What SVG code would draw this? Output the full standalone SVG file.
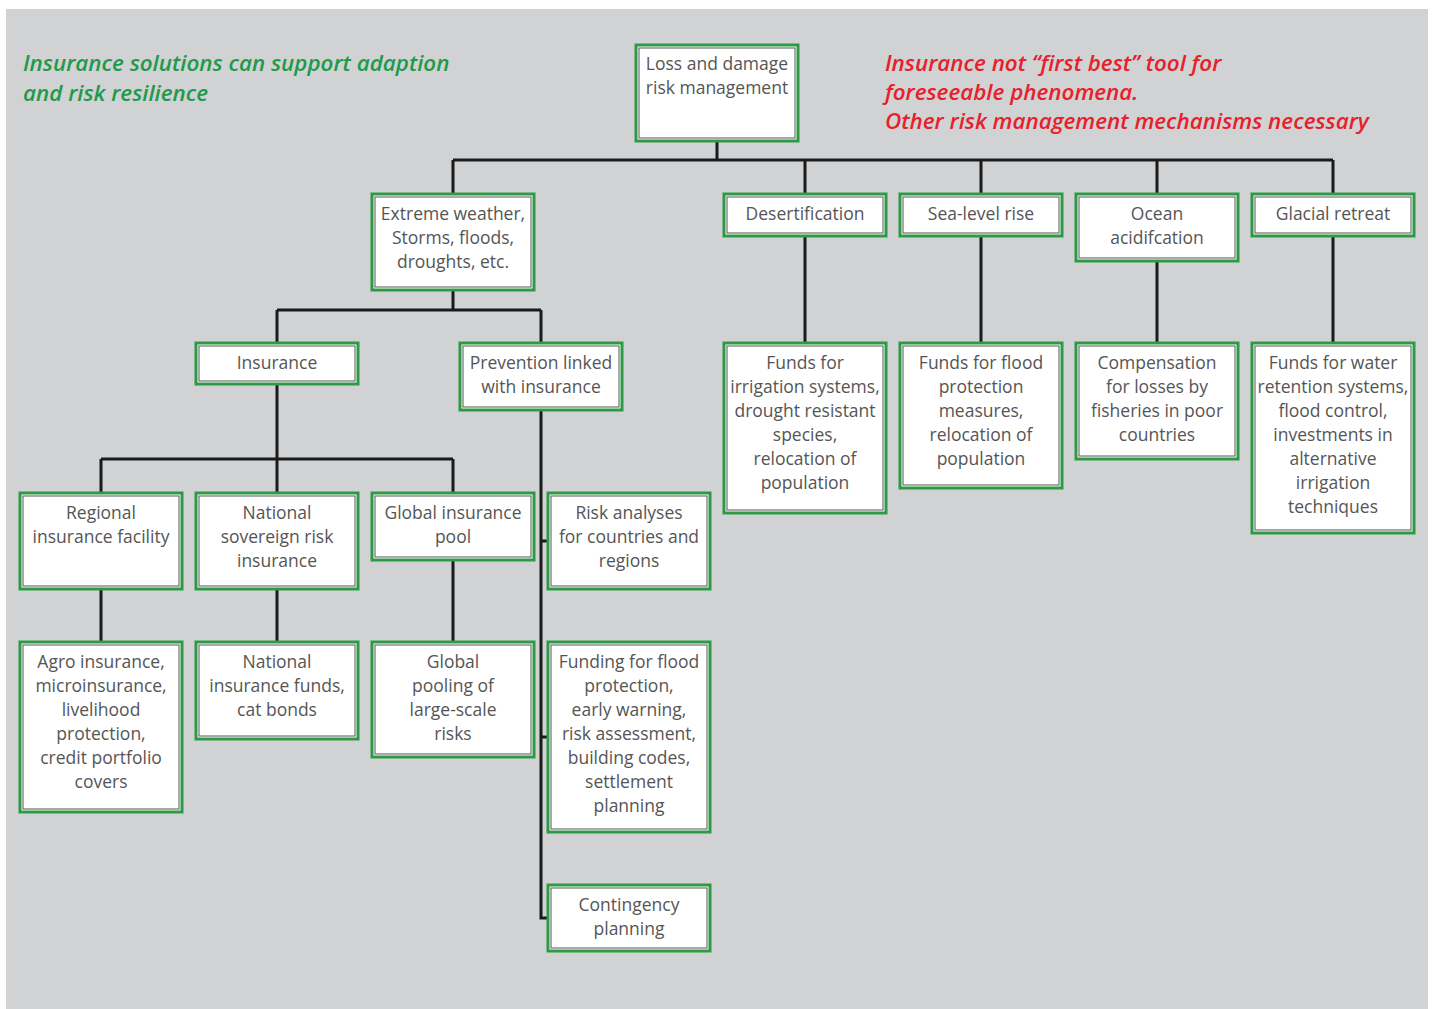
<svg xmlns="http://www.w3.org/2000/svg" width="1435" height="1009" viewBox="0 0 1435 1009">
<style>
.n rect.o{fill:#fff;stroke:#2f9a45;stroke-width:3}
.n rect.i{fill:none;stroke:#555;stroke-width:1}
.n text{font-family:"Open Sans","DejaVu Sans",sans-serif;font-size:17.5px;fill:#555;text-anchor:middle}
.c path{fill:none;stroke:#1a1a1a;stroke-width:3}
.h{font-family:"Open Sans","DejaVu Sans",sans-serif;font-size:22.4px;font-style:italic;font-weight:600}
</style>
<rect x="0" y="0" width="1435" height="1009" fill="#fff"/>
<rect x="6" y="9" width="1422" height="1000" fill="#d1d2d4"/>
<g id="headings">
<text class="h" fill="#1e9a4a" x="23" y="71">Insurance solutions can support adaption</text>
<text class="h" fill="#1e9a4a" x="23" y="101">and risk resilience</text>
<text class="h" fill="#e8202a" x="885" y="71">Insurance not “first best” tool for</text>
<text class="h" fill="#e8202a" x="885" y="100">foreseeable phenomena.</text>
<text class="h" fill="#e8202a" x="885" y="129">Other risk management mechanisms necessary</text>
</g>
<g class="c" id="connectors">
<path d="M717 141V160M453 160H1333M453 160V194M805 160V194M981 160V194M1157 160V194M1333 160V194"/>
<path d="M453 290V310M277 310H541M277 310V343M541 310V343"/>
<path d="M277 384V493M101 459H453M101 459V493M453 459V493"/>
<path d="M101 589V642M277 589V642M453 560V642"/>
<path d="M541 410V918H548M541 541H548M541 737H548"/>
<path d="M805 236V343M981 236V343M1157 261V343M1333 236V343"/>
</g>
<g class="n" id="n-loss"><rect class="o" x="636" y="45" width="162" height="96"/><rect class="i" x="639" y="48" width="156" height="90"/><text x="717" y="70">Loss and damage</text><text x="717" y="94">risk management</text></g>
<g class="n" id="n-extreme"><rect class="o" x="372" y="194" width="162" height="96"/><rect class="i" x="375" y="197" width="156" height="90"/><text x="453" y="220">Extreme weather,</text><text x="453" y="244">Storms, floods,</text><text x="453" y="268">droughts, etc.</text></g>
<g class="n" id="n-desert"><rect class="o" x="724" y="194" width="162" height="42"/><rect class="i" x="727" y="197" width="156" height="36"/><text x="805" y="220">Desertification</text></g>
<g class="n" id="n-sea"><rect class="o" x="900" y="194" width="162" height="42"/><rect class="i" x="903" y="197" width="156" height="36"/><text x="981" y="220">Sea-level rise</text></g>
<g class="n" id="n-ocean"><rect class="o" x="1076" y="194" width="162" height="67"/><rect class="i" x="1079" y="197" width="156" height="61"/><text x="1157" y="220">Ocean</text><text x="1157" y="244">acidifcation</text></g>
<g class="n" id="n-glacial"><rect class="o" x="1252" y="194" width="162" height="42"/><rect class="i" x="1255" y="197" width="156" height="36"/><text x="1333" y="220">Glacial retreat</text></g>
<g class="n" id="n-insurance"><rect class="o" x="196" y="343" width="162" height="41"/><rect class="i" x="199" y="346" width="156" height="35"/><text x="277" y="369">Insurance</text></g>
<g class="n" id="n-prevention"><rect class="o" x="460" y="343" width="162" height="67"/><rect class="i" x="463" y="346" width="156" height="61"/><text x="541" y="369">Prevention linked</text><text x="541" y="393">with insurance</text></g>
<g class="n" id="n-irrig"><rect class="o" x="724" y="343" width="162" height="170"/><rect class="i" x="727" y="346" width="156" height="164"/><text x="805" y="369">Funds for</text><text x="805" y="393">irrigation systems,</text><text x="805" y="417">drought resistant</text><text x="805" y="441">species,</text><text x="805" y="465">relocation of</text><text x="805" y="489">population</text></g>
<g class="n" id="n-floodfunds"><rect class="o" x="900" y="343" width="162" height="145"/><rect class="i" x="903" y="346" width="156" height="139"/><text x="981" y="369">Funds for flood</text><text x="981" y="393">protection</text><text x="981" y="417">measures,</text><text x="981" y="441">relocation of</text><text x="981" y="465">population</text></g>
<g class="n" id="n-comp"><rect class="o" x="1076" y="343" width="162" height="116"/><rect class="i" x="1079" y="346" width="156" height="110"/><text x="1157" y="369">Compensation</text><text x="1157" y="393">for losses by</text><text x="1157" y="417">fisheries in poor</text><text x="1157" y="441">countries</text></g>
<g class="n" id="n-water"><rect class="o" x="1252" y="343" width="162" height="190"/><rect class="i" x="1255" y="346" width="156" height="184"/><text x="1333" y="369">Funds for water</text><text x="1333" y="393">retention systems,</text><text x="1333" y="417">flood control,</text><text x="1333" y="441">investments in</text><text x="1333" y="465">alternative</text><text x="1333" y="489">irrigation</text><text x="1333" y="513">techniques</text></g>
<g class="n" id="n-regional"><rect class="o" x="20" y="493" width="162" height="96"/><rect class="i" x="23" y="496" width="156" height="90"/><text x="101" y="519">Regional</text><text x="101" y="543">insurance facility</text></g>
<g class="n" id="n-sovereign"><rect class="o" x="196" y="493" width="162" height="96"/><rect class="i" x="199" y="496" width="156" height="90"/><text x="277" y="519">National</text><text x="277" y="543">sovereign risk</text><text x="277" y="567">insurance</text></g>
<g class="n" id="n-globalpool"><rect class="o" x="372" y="493" width="162" height="67"/><rect class="i" x="375" y="496" width="156" height="61"/><text x="453" y="519">Global insurance</text><text x="453" y="543">pool</text></g>
<g class="n" id="n-riskan"><rect class="o" x="548" y="493" width="162" height="96"/><rect class="i" x="551" y="496" width="156" height="90"/><text x="629" y="519">Risk analyses</text><text x="629" y="543">for countries and</text><text x="629" y="567">regions</text></g>
<g class="n" id="n-agro"><rect class="o" x="20" y="642" width="162" height="170"/><rect class="i" x="23" y="645" width="156" height="164"/><text x="101" y="668">Agro insurance,</text><text x="101" y="692">microinsurance,</text><text x="101" y="716">livelihood</text><text x="101" y="740">protection,</text><text x="101" y="764">credit portfolio</text><text x="101" y="788">covers</text></g>
<g class="n" id="n-natfunds"><rect class="o" x="196" y="642" width="162" height="97"/><rect class="i" x="199" y="645" width="156" height="91"/><text x="277" y="668">National</text><text x="277" y="692">insurance funds,</text><text x="277" y="716">cat bonds</text></g>
<g class="n" id="n-globalpooling"><rect class="o" x="372" y="642" width="162" height="115"/><rect class="i" x="375" y="645" width="156" height="109"/><text x="453" y="668">Global</text><text x="453" y="692">pooling of</text><text x="453" y="716">large-scale</text><text x="453" y="740">risks</text></g>
<g class="n" id="n-funding"><rect class="o" x="548" y="642" width="162" height="190"/><rect class="i" x="551" y="645" width="156" height="184"/><text x="629" y="668">Funding for flood</text><text x="629" y="692">protection,</text><text x="629" y="716">early warning,</text><text x="629" y="740">risk assessment,</text><text x="629" y="764">building codes,</text><text x="629" y="788">settlement</text><text x="629" y="812">planning</text></g>
<g class="n" id="n-conting"><rect class="o" x="548" y="885" width="162" height="66"/><rect class="i" x="551" y="888" width="156" height="60"/><text x="629" y="911">Contingency</text><text x="629" y="935">planning</text></g>
</svg>
